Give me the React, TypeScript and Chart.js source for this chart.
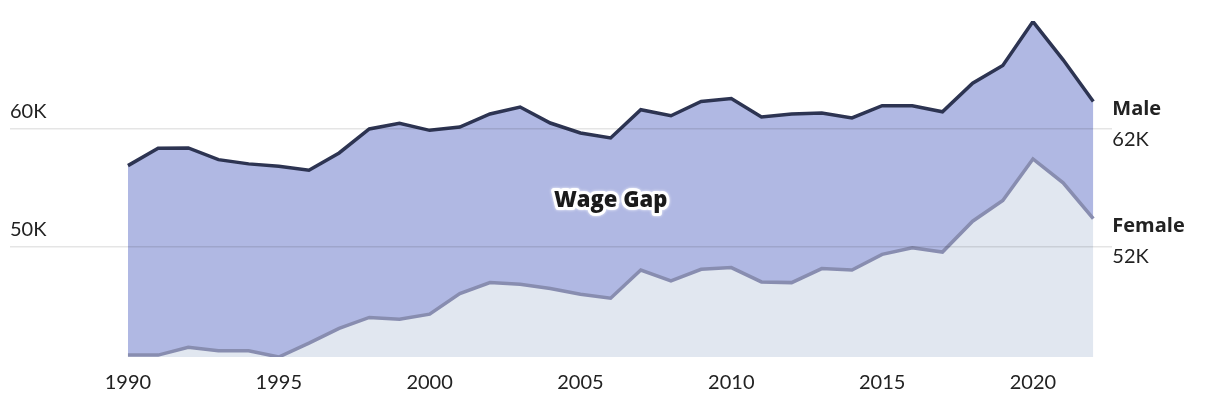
import React, { useEffect, useRef } from 'react';
import { Chart, registerables } from 'chart.js';

Chart.register(...registerables);

const years = [1990, 1991, 1992, 1993, 1994, 1995, 1996, 1997, 1998, 1999, 2000, 2001, 2002, 2003, 2004, 2005, 2006, 2007, 2008, 2009, 2010, 2011, 2012, 2013, 2014, 2015, 2016, 2017, 2018, 2019, 2020, 2021, 2022];
const maleWages = [56860, 58330, 58360, 57370, 57010, 56800, 56470, 57940, 59975, 60450, 59860, 60140, 61250, 61840, 60480, 59640, 59210, 61610, 61100, 62310, 62570, 60990, 61250, 61330, 60910, 61950, 61950, 61440, 63870, 65370, 69100, 65850, 62310];
const femaleWages = [40760, 40760, 41420, 41130, 41130, 40600, 41780, 43030, 43960, 43810, 44240, 45990, 46920, 46780, 46420, 45930, 45590, 47990, 47070, 48050, 48200, 46980, 46920, 48110, 47990, 49320, 49890, 49520, 52140, 53900, 57430, 55400, 52350];
const xTickYears = [1990, 1995, 2000, 2005, 2010, 2015, 2020];
const yTickValues = [50000, 60000];
const seriesNames = ['Male', 'Female'];
const gapLabel = 'Wage Gap';
const gapLabelAt = { x: 2006, y: 53900 };

const FONT = 'Lato, "Noto Sans", sans-serif';
const BOLD_FONT = '"Open Sans", "Noto Sans", sans-serif';
const TEXT = '#222222';

const fmtK = (v: number) => Math.round(v / 1000) + 'K';

const labelsPlugin = {
  id: 'endLabels',
  afterDatasetsDraw(chart: any) {
    const { ctx, scales } = chart;
    const xs = scales.x;
    const ys = scales.y;
    ctx.save();
    // Wage gap label with white halo
    const gx = xs.getPixelForValue(gapLabelAt.x);
    const gy = ys.getPixelForValue(gapLabelAt.y);
    ctx.font = `800 22px ${BOLD_FONT}`;
    ctx.textAlign = 'center';
    ctx.textBaseline = 'middle';
    ctx.lineJoin = 'round';
    ctx.strokeStyle = '#ffffff';
    ctx.lineWidth = 6;
    ctx.shadowColor = 'rgba(255,255,255,0.9)';
    ctx.shadowBlur = 3;
    ctx.strokeText(gapLabel, gx, gy);
    ctx.shadowBlur = 0;
    ctx.fillStyle = '#1a1a1a';
    ctx.fillText(gapLabel, gx, gy);

    // End labels
    const series = [maleWages, femaleWages];
    const lastX = xs.getPixelForValue(years[years.length - 1]);
    series.forEach((arr, i) => {
      const v = arr[arr.length - 1];
      const py = ys.getPixelForValue(v);
      ctx.textAlign = 'left';
      ctx.textBaseline = 'middle';
      ctx.fillStyle = TEXT;
      ctx.font = `bold 20px ${BOLD_FONT}`;
      ctx.fillText(seriesNames[i], lastX + 19, py + 8);
      ctx.font = `20px ${FONT}`;
      ctx.fillText(fmtK(v), lastX + 19, py + 38);
    });
    ctx.restore();
  },
};

export default function App() {
  const ref = useRef<HTMLCanvasElement | null>(null);
  useEffect(() => {
    if (!ref.current) return;
    const chart = new Chart(ref.current, {
      type: 'line',
      data: {
        datasets: [
          {
            label: seriesNames[0],
            data: years.map((x, i) => ({ x, y: maleWages[i] })),
            borderColor: '#2d3452',
            borderWidth: 3.5,
            backgroundColor: '#b0b8e3',
            fill: '+1',
            pointRadius: 0,
            tension: 0,
          },
          {
            label: seriesNames[1],
            data: years.map((x, i) => ({ x, y: femaleWages[i] })),
            borderColor: '#888db0',
            borderWidth: 3.5,
            backgroundColor: '#e1e7f0',
            fill: 'start',
            pointRadius: 0,
            tension: 0,
          },
        ],
      },
      options: {
        animation: false,
        responsive: true,
        maintainAspectRatio: false,
        layout: { padding: { left: 10, right: 108, top: 21, bottom: -1 } },
        plugins: {
          legend: { display: false },
          tooltip: { enabled: false },
          filler: { drawTime: 'beforeDatasetsDraw' },
        },
        scales: {
          x: {
            type: 'linear',
            min: 1986.09,
            max: 2022.62,
            afterBuildTicks: (s: any) => {
              s.ticks = xTickYears.map((v) => ({ value: v }));
            },
            grid: { display: false, drawTicks: false },
            border: { display: false },
            ticks: {
              autoSkip: false,
              maxRotation: 0,
              padding: 14,
              color: TEXT,
              font: { family: FONT, size: 20 },
              callback: (v: any) => String(v),
            },
          },
          y: {
            type: 'linear',
            min: 40600,
            max: 69150,
            afterBuildTicks: (s: any) => {
              s.ticks = yTickValues.map((v) => ({ value: v }));
            },
            grid: { color: 'rgba(0,0,0,0.1)', lineWidth: 1.5, drawTicks: false, z: 1 },
            border: { display: false },
            ticks: {
              mirror: true,
              padding: 0,
              labelOffset: -17,
              color: TEXT,
              font: { family: FONT, size: 20 },
              callback: (v: any) => fmtK(Number(v)),
            },
          },
        },
      },
      plugins: [labelsPlugin],
    });
    return () => chart.destroy();
  }, []);
  return (
    <div style={{ position: 'fixed', left: 0, top: 0, width: 1220, height: 408, background: '#fff' }}>
      <canvas ref={ref} />
    </div>
  );
}
